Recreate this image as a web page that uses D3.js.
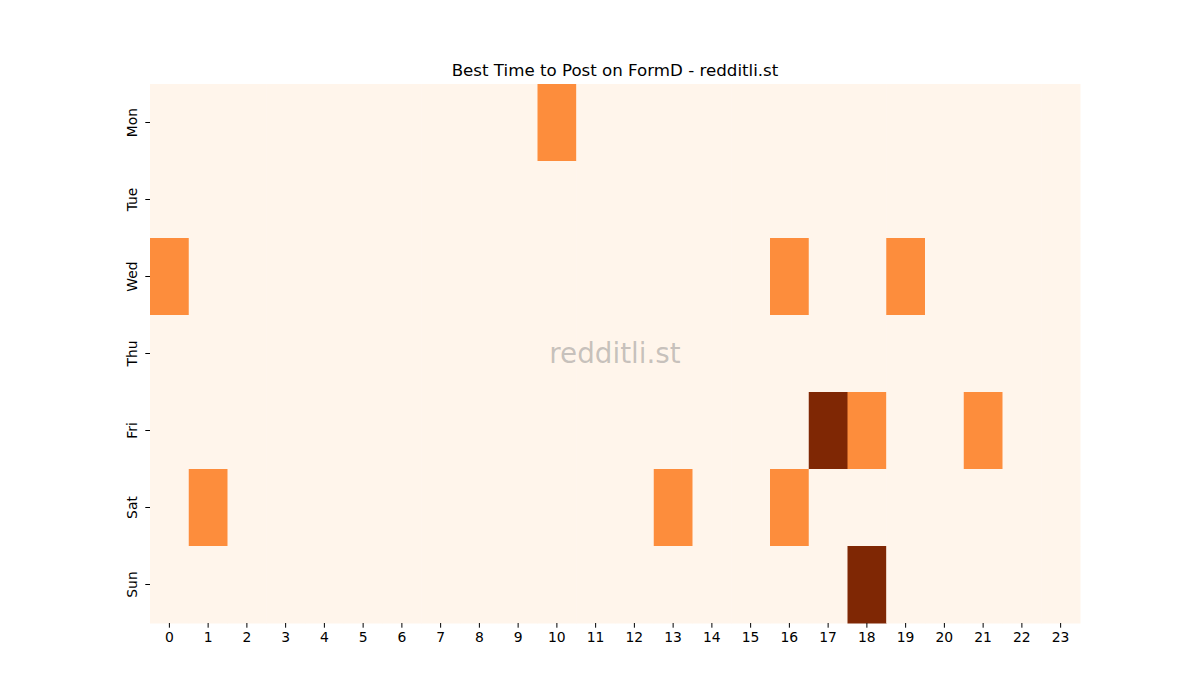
<!doctype html>
<html lang="en">
<head>
  <meta charset="utf-8">
  <title>Best Time to Post on FormD - redditli.st</title>
  <script src="https://cdn.jsdelivr.net/npm/d3@7"></script>
  <style type="text/css">
    body {
      margin: 0;
      background-color: #ffffff;
      font-family: "DejaVu Sans", sans-serif;
    }
    .tick text {
      font-size: 13.9px;
      fill: #000000;
    }
    .title {
      font-size: 16.67px;
      fill: #000000;
    }
    .watermark {
      font-size: 27.8px;
      fill: #808080;
      fill-opacity: 0.45;
    }
  </style>
</head>
<body>
  <div id="container"></div>

<script type="text/javascript">

  // Day rows and hour columns
  var days = ["Mon", "Tue", "Wed", "Thu", "Fri", "Sat", "Sun"];
  var hours = d3.range(0, 24);

  // Post counts per day, one value for each hour 0..23
  var mon = [0,0,0,0,0,0,0,0,0,0,1,0,0,0,0,0,0,0,0,0,0,0,0,0];
  var tue = [0,0,0,0,0,0,0,0,0,0,0,0,0,0,0,0,0,0,0,0,0,0,0,0];
  var wed = [1,0,0,0,0,0,0,0,0,0,0,0,0,0,0,0,1,0,0,1,0,0,0,0];
  var thu = [0,0,0,0,0,0,0,0,0,0,0,0,0,0,0,0,0,0,0,0,0,0,0,0];
  var fri = [0,0,0,0,0,0,0,0,0,0,0,0,0,0,0,0,0,2,1,0,0,1,0,0];
  var sat = [0,1,0,0,0,0,0,0,0,0,0,0,0,1,0,0,1,0,0,0,0,0,0,0];
  var sun = [0,0,0,0,0,0,0,0,0,0,0,0,0,0,0,0,0,0,2,0,0,0,0,0];

  var rows = [mon, tue, wed, thu, fri, sat, sun];

  // SVG dimensions
  var width = 1200, height = 700;
  var margin = {left: 150, right: 120, top: 84, bottom: 77};

  var svg = d3.select("#container")
              .append("svg")
              .attr("width", width)
              .attr("height", height);

  // Flatten into cells
  var cells = [];
  rows.forEach(function(r, i) {
    r.forEach(function(v, h) {
      cells.push({day: days[i], hour: h, value: v});
    });
  });

  var xScale = d3.scaleBand()
    .domain(hours)
    .range([margin.left, width - margin.right]);
  var yScale = d3.scaleBand()
    .domain(days)
    .range([margin.top, height - margin.bottom]);

  // Oranges colormap, 0..max
  var maxVal = d3.max(cells, function(d) { return d.value; });
  var color = d3.scaleLinear()
    .domain([0, maxVal / 2, maxVal])
    .range(["#fff5eb", "#fd8d3c", "#7f2704"]);

  // Draw the cells
  svg.selectAll("rect.cell")
    .data(cells)
    .enter()
    .append("rect")
    .attr("class", "cell")
    .attr("x", function(d) { return xScale(d.hour); })
    .attr("y", function(d) { return yScale(d.day); })
    .attr("width", xScale.bandwidth() + 0.5)
    .attr("height", yScale.bandwidth() + 0.5)
    .attr("fill", function(d) { return color(d.value); });

  // Axes
  var xAxis = svg.append("g")
    .attr("transform", "translate(0," + (height - margin.bottom) + ")")
    .call(d3.axisBottom(xScale).tickSize(4.7).tickPadding(4.5));
  var yAxis = svg.append("g")
    .attr("transform", "translate(" + margin.left + ",0)")
    .call(d3.axisLeft(yScale).tickSize(4.7).tickPadding(4.5));

  xAxis.select(".domain").remove();
  yAxis.select(".domain").remove();
  xAxis.selectAll(".tick line").attr("stroke", "#000").attr("stroke-width", 1);
  yAxis.selectAll(".tick line").attr("stroke", "#000").attr("stroke-width", 1);
  xAxis.selectAll(".tick text").attr("font-family", "DejaVu Sans");
  yAxis.selectAll(".tick text")
    .attr("font-family", "DejaVu Sans")
    .attr("text-anchor", "middle")
    .attr("x", 0)
    .attr("dy", 0)
    .attr("transform", "translate(-13,0) rotate(-90)");

  // Title
  svg.append("text")
    .attr("class", "title")
    .attr("x", (margin.left + width - margin.right) / 2)
    .attr("y", 76)
    .attr("text-anchor", "middle")
    .text("Best Time to Post on FormD - redditli.st");

  // Watermark
  svg.append("text")
    .attr("class", "watermark")
    .attr("x", (margin.left + width - margin.right) / 2)
    .attr("y", 353)
    .attr("text-anchor", "middle")
    .attr("dominant-baseline", "central")
    .text("redditli.st");

</script>
</body>
</html>
